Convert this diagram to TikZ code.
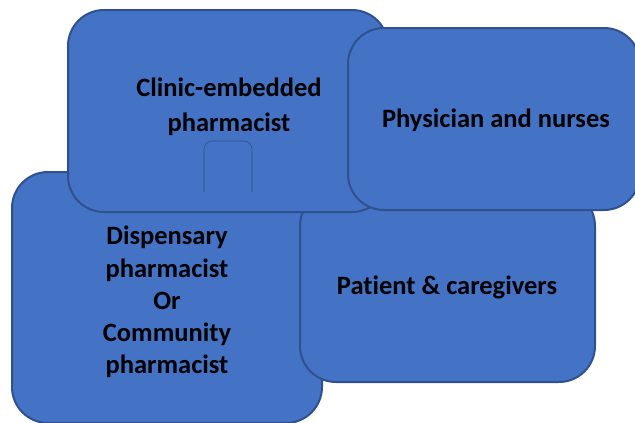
\documentclass[tikz,border=0pt]{standalone}
\usepackage{fontspec}
\setmainfont[Ligatures={NoCommon}]{Carlito}
\definecolor{boxfill}{HTML}{4472C4}
\definecolor{boxline}{HTML}{2F528F}
\tikzset{
  panel/.style={fill=boxfill, draw=boxline, line width=2pt, rounded corners=36pt},
  lbl/.style={font=\fontsize{26.5}{32.2}\selectfont\bfseries, align=center, text=black, inner sep=0pt}
}
\begin{document}
\begin{tikzpicture}[x=1pt,y=-1pt]
\useasboundingbox (0,0) rectangle (635,423);
\path[panel] (12,172) rectangle (322,423);
\path[panel] (300,190) rectangle (595,382);
\path[panel] (68,10) rectangle (388,212);
\path[panel] (348,28) rectangle (640,210);
\draw[boxline, line width=0.6pt, rounded corners=8pt] (204,192) -- (204,141) -- (252,141) -- (252,192);
\node[lbl] (disp) at (167,302) {Dispensary\\pharmacist\\Or\\Community\\pharmacist};
\node[lbl, font=\fontsize{26.5}{35}\selectfont\bfseries] (clinic) at (229,107) {Clinic-embedded\\pharmacist};
\node[lbl] (phys) at (496,120) {Physician and nurses};
\node[lbl] (pat) at (447,287) {Patient \& caregivers};
\end{tikzpicture}
\end{document}
